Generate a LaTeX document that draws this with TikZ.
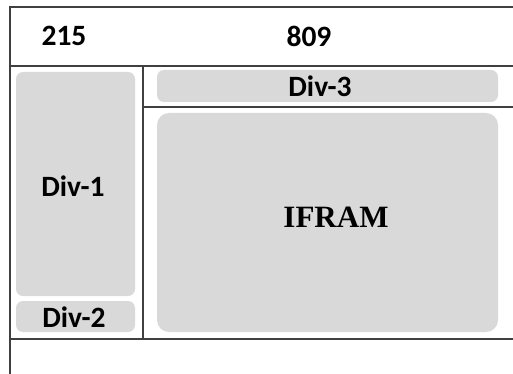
\documentclass[tikz,border=0pt]{standalone}
\usepackage{fontspec}
\setmainfont{Liberation Serif}
\newfontfamily\calfont{Carlito}
\begin{document}
\begin{tikzpicture}[x=1pt,y=-1pt,
  frame/.style={line width=1.6pt,draw=black!75},
  divbox/.style={fill=black!15,draw=none,rounded corners=7pt,inner sep=0pt,outer sep=0pt,rectangle},
  lbl/.style={font=\calfont\bfseries\fontsize{29.5}{31}\selectfont,inner sep=0pt,anchor=center},
  serif/.style={font=\bfseries\fontsize{31}{33}\selectfont,inner sep=0pt,anchor=center}]
\useasboundingbox[fill=white] (0,0) rectangle (513,374);
% frame coordinates
\coordinate (tl) at (10,7);
\coordinate (tr) at (513,7);
\coordinate (bl) at (10,374);
\coordinate (ml) at (10,66);
\coordinate (mr) at (513,66);
\coordinate (lbl) at (10,339);
\coordinate (lbr) at (513,339);
\coordinate (vt) at (143,66);
\coordinate (vb) at (143,339);
\coordinate (d3l) at (143,107);
\coordinate (d3r) at (513,107);
% boxes
\node[divbox,minimum width=119pt,minimum height=224pt] (div1) at (75.5,184) {};
\node[divbox,minimum width=119pt,minimum height=31pt] (div2) at (75.5,316.5) {};
\node[divbox,minimum width=341pt,minimum height=32pt] (div3) at (327.5,86) {};
\node[divbox,rounded corners=12pt,minimum width=341pt,minimum height=219pt] (ifr) at (327.5,222.5) {};
% lines
\draw[frame] (bl) -- (tl) -- (tr);
\draw[frame] (ml) -- (mr);
\draw[frame] (lbl) -- (lbr);
\draw[frame] (vt) -- (vb);
\draw[frame] (d3l) -- (d3r);
% texts
\node[lbl] (t215) at (64,36) {215};
\node[lbl] (t809) at (309,36) {809};
\node[lbl] (tdiv3) at (320,86) {Div-3};
\node[lbl] (tdiv1) at (73,186) {Div-1};
\node[lbl] (tdiv2) at (74,317) {Div-2};
\node[serif] (tifr) at (336,217) {IFRAM};
\end{tikzpicture}
\end{document}
